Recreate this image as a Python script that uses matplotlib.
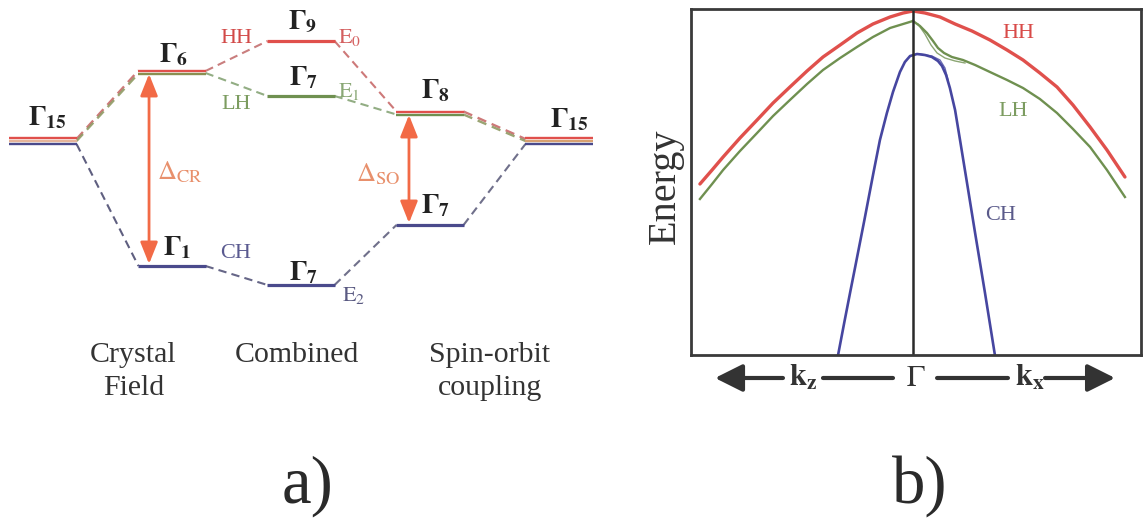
import matplotlib.pyplot as plt

plt.rcParams['font.family'] = 'Liberation Serif'
plt.rcParams['mathtext.fontset'] = 'stix'

RED = '#e0504c'
GREEN = '#6f9050'
BLUE = '#4a4a8c'
ORANGE = '#f26a46'
DARK = '#333333'

# ---------------- a) level scheme ----------------
# column: 0 = Γ15, 1 = crystal field, 2 = combined, 3 = spin-orbit, 4 = Γ15
level_names = ['G15a', 'G6', 'G1', 'G9', 'G7lh', 'G7ch', 'G8', 'G7so', 'G15b']
level_cols = [0, 1, 1, 2, 2, 2, 3, 3, 4]
level_energy = [0, 69, -125, 100, 45, -144, 28, -84, 0]
level_texts = [r'$\mathbf{\Gamma_{15}}$', r'$\mathbf{\Gamma_{6}}$', r'$\mathbf{\Gamma_{1}}$',
               r'$\mathbf{\Gamma_{9}}$', r'$\mathbf{\Gamma_{7}}$', r'$\mathbf{\Gamma_{7}}$',
               r'$\mathbf{\Gamma_{8}}$', r'$\mathbf{\Gamma_{7}}$', r'$\mathbf{\Gamma_{15}}$']
column_titles = ['Crystal\nField', 'Combined', 'Spin-orbit\ncoupling']

# splittings (upper level, lower level)
delta_cr = (69, -125)
delta_so = (28, -84)

# ---------------- b) band structure ----------------
hh_k_left = [-0.947, -0.893, -0.844, -0.769, -0.693, -0.622, -0.547, -0.471,
             -0.400, -0.324, -0.249, -0.178, -0.102, -0.044, 0.0]
hh_e_left = [-1.75, -1.61, -1.48, -1.29, -1.11, -0.94, -0.78, -0.62,
             -0.48, -0.36, -0.24, -0.15, -0.08, -0.04, -0.02]
hh_k_right = [0.0, 0.053, 0.12, 0.187, 0.262, 0.342, 0.418, 0.489,
              0.564, 0.64, 0.711, 0.787, 0.862, 0.942]
hh_e_right = [-0.02, -0.04, -0.08, -0.15, -0.22, -0.31, -0.41, -0.51,
              -0.64, -0.78, -0.96, -1.18, -1.41, -1.68]

lh_k_left = hh_k_left
lh_e_left = [-1.90, -1.75, -1.61, -1.42, -1.24, -1.07, -0.91, -0.75,
             -0.61, -0.49, -0.38, -0.28, -0.19, -0.15, -0.12]
lh_k_right = [0.0, 0.031, 0.062, 0.089, 0.111, 0.138, 0.173, 0.222, 0.276,
              0.342, 0.418, 0.489, 0.564, 0.64, 0.711, 0.787, 0.862, 0.942]
lh_e_right = [-0.12, -0.17, -0.24, -0.32, -0.39, -0.44, -0.48, -0.51, -0.56,
              -0.63, -0.71, -0.79, -0.90, -1.04, -1.20, -1.38, -1.61, -1.88]
lh_k_split = [0.022, 0.053, 0.08, 0.107, 0.142, 0.187, 0.231]
lh_e_split = [-0.15, -0.25, -0.36, -0.44, -0.49, -0.52, -0.54]

ch_k = [-0.333, -0.305, -0.279, -0.257, -0.216, -0.176, -0.147, -0.116, -0.089,
        -0.058, -0.036, -0.013, 0.018, 0.053, 0.084, 0.111, 0.129, 0.147, 0.164,
        0.187, 0.209, 0.243, 0.276, 0.320, 0.364]
ch_e = [-3.46, -3.13, -2.83, -2.58, -2.11, -1.64, -1.31, -1.04, -0.83,
        -0.63, -0.53, -0.47, -0.45, -0.46, -0.48, -0.52, -0.57, -0.66, -0.79,
        -1.01, -1.31, -1.78, -2.24, -2.84, -3.46]
ch_k_split = [0.031, 0.084, 0.12, 0.142, 0.156]
ch_e_split = [-0.45, -0.47, -0.51, -0.59, -0.71]


def level_line(ax, col, e, colors, gap):
    hw = 0.26
    n = len(colors)
    for i, c in enumerate(colors):
        off = (n - 1) / 2 * gap - i * gap
        ax.plot([col - hw, col + hw], [e + off, e + off], color=c,
                lw=2.3 if n == 1 else 1.7, solid_capstyle='butt')


def link(ax, c0, e0, c1, e1, color, lw=1.5):
    hw = 0.26
    ax.plot([c0 + hw, c1 - hw], [e0, e1], color=color, lw=lw,
            dashes=(4, 2.5), alpha=0.9)


def draw_levels(ax):
    E = dict(zip(level_names, level_energy))
    C = dict(zip(level_names, level_cols))

    # dashed correlation lines
    link(ax, 0, E['G15a'] + 2, 1, E['G6'] + 1.5, '#c86a6a', 1.7)
    link(ax, 0, E['G15a'], 1, E['G6'] - 1.5, '#8f9a64', 1.7)
    link(ax, 0, E['G15a'] - 3, 1, E['G1'], '#4e4e72')
    link(ax, 1, E['G6'] + 1, 2, E['G9'], '#c47070')
    link(ax, 1, E['G6'] - 1, 2, E['G7lh'], '#86a476')
    link(ax, 1, E['G1'], 2, E['G7ch'], '#55557a')
    link(ax, 2, E['G9'], 3, E['G8'] + 1.5, '#c86a6a')
    link(ax, 2, E['G7lh'], 3, E['G8'] - 1.5, '#86a476')
    link(ax, 2, E['G7ch'], 3, E['G7so'], '#60607e')
    link(ax, 3, E['G8'] + 1.5, 4, E['G15b'] + 2, '#c86a6a', 1.7)
    link(ax, 3, E['G8'] - 1.5, 4, E['G15b'], '#8f9a64', 1.7)
    link(ax, 3, E['G7so'], 4, E['G15b'] - 3, '#60607e')

    # the levels themselves
    level_colors = {'G15a': [RED, '#e6b49a', BLUE], 'G15b': [RED, '#d8a070', BLUE],
                    'G6': [RED, '#8a8f50'], 'G8': [RED, GREEN],
                    'G1': [BLUE], 'G9': [RED], 'G7lh': [GREEN],
                    'G7ch': [BLUE], 'G7so': [BLUE]}
    for name in level_names:
        level_line(ax, C[name], E[name], level_colors[name], 3.0)

    # Γ labels (left edge, baseline)
    label_pos = {'G15a': (-0.12, 16), 'G6': (0.90, 79), 'G1': (0.93, -114),
                 'G9': (1.90, 112), 'G7lh': (1.91, 56), 'G7ch': (1.91, -139),
                 'G8': (2.93, 43), 'G7so': (2.93, -72), 'G15b': (3.93, 14)}
    for name, txt in zip(level_names, level_texts):
        x, y = label_pos[name]
        ax.text(x, y, txt, fontsize=20, color='#222222', ha='left', va='baseline')

    # band names and energies
    ax.text(1.50, 103, 'HH', fontsize=16, color='#d24a48', ha='center', va='center')
    ax.text(1.50, 37, 'LH', fontsize=16, color='#7c9c60', ha='center', va='center')
    ax.text(1.49, -112, 'CH', fontsize=16, color='#5a5a90', ha='center', va='center')
    ax.text(2.29, 104, r'$\mathrm{E_0}$', fontsize=16, color='#d46060', ha='left', va='center')
    ax.text(2.29, 50, r'$\mathrm{E_1}$', fontsize=16, color='#8aa876', ha='left', va='center')
    ax.text(2.32, -154, r'$\mathrm{E_2}$', fontsize=16, color='#5a5a82', ha='left', va='center')

    # splitting arrows
    arrow = dict(arrowstyle='<|-|>,head_length=0.55,head_width=0.22', color=ORANGE,
                 lw=2.0, mutation_scale=24, shrinkA=0, shrinkB=0)
    ax.annotate('', xy=(0.822, delta_cr[1] + 2), xytext=(0.822, delta_cr[0] - 2),
                arrowprops=arrow)
    ax.annotate('', xy=(2.837, delta_so[1] + 2), xytext=(2.837, delta_so[0] - 2),
                arrowprops=arrow)
    ax.text(0.88, -31, r'$\Delta_{\mathrm{CR}}$', fontsize=19, color='#e8906c',
            ha='left', va='center')
    ax.text(2.77, -33, r'$\Delta_{\mathrm{SO}}$', fontsize=19, color='#e8906c',
            ha='right', va='center')

    # column titles
    ax.text(0.70, -230, column_titles[0], fontsize=21.5, color=DARK, ha='center',
            va='center', linespacing=1.35)
    ax.text(1.97, -214, column_titles[1], fontsize=21.5, color=DARK, ha='center',
            va='center')
    ax.text(3.465, -230, column_titles[2], fontsize=21.5, color=DARK, ha='center',
            va='center', linespacing=1.35)

    ax.text(2.047, -362, 'a)', fontsize=48, color='#2a2a2a', ha='center', va='baseline')


def draw_bands(ax):
    ax.plot(hh_k_left, hh_e_left, color=RED, lw=2.4, solid_capstyle='round')
    ax.plot(hh_k_right, hh_e_right, color=RED, lw=2.4, solid_capstyle='round')
    ax.plot(lh_k_left, lh_e_left, color=GREEN, lw=1.7)
    ax.plot(lh_k_right, lh_e_right, color=GREEN, lw=1.7)
    ax.plot(lh_k_split, lh_e_split, color=GREEN, lw=1.0, alpha=0.8)
    ax.plot(ch_k, ch_e, color='#4646a0', lw=1.9)
    ax.plot(ch_k_split, ch_e_split, color='#4646a0', lw=1.0, alpha=0.8)
    ax.axvline(0, color='#2a2a2a', lw=1.8)

    ax.text(0.467, -0.24, 'HH', fontsize=16, color='#d84a48', ha='center', va='center')
    ax.text(0.444, -1.03, 'LH', fontsize=16, color='#7c9c60', ha='center', va='center')
    ax.text(0.387, -2.06, 'CH', fontsize=16, color='#5a5a8a', ha='center', va='center')

    ax.text(-1.102, -1.77, 'Energy', rotation=90, fontsize=29, color=DARK,
            ha='center', va='center')

    # k axis under the panel
    y = -3.69
    head = dict(arrowstyle='-|>,head_length=0.6,head_width=0.3', color=DARK, lw=3,
                mutation_scale=28, shrinkA=0, shrinkB=0)
    plain = dict(arrowstyle='-', color=DARK, lw=3, shrinkA=0, shrinkB=0)
    ax.annotate('', xy=(-0.88, y), xytext=(-0.578, y), arrowprops=head,
                annotation_clip=False)
    ax.annotate('', xy=(-0.089, y), xytext=(-0.40, y), arrowprops=plain,
                annotation_clip=False)
    ax.annotate('', xy=(0.422, y), xytext=(0.107, y), arrowprops=plain,
                annotation_clip=False)
    ax.annotate('', xy=(0.898, y), xytext=(0.587, y), arrowprops=head,
                annotation_clip=False)
    ax.text(-0.49, y, r'$\mathbf{k_z}$', fontsize=22, color=DARK, ha='center', va='center')
    ax.text(0.013, y, r'$\Gamma$', fontsize=22, color=DARK, ha='center', va='center')
    ax.text(0.52, y, r'$\mathbf{k_x}$', fontsize=22, color=DARK, ha='center', va='center')

    ax.text(0.031, -4.94, 'b)', fontsize=48, color='#2a2a2a', ha='center', va='baseline')

    ax.set_xlim(-222 / 225, 228 / 225)
    ax.set_ylim(-3.46, 0)
    ax.set_xticks([])
    ax.set_yticks([])
    for s in ax.spines.values():
        s.set_linewidth(2.0)
        s.set_color('#3a3a3a')


fig = plt.figure(figsize=(11.43, 5.21), dpi=100)

ax_a = fig.add_axes([0, 0, 640 / 1143, 1])
ax_a.set_xlim(-43 / 129, (640 - 43) / 129)
ax_a.set_ylim(141 - 521, 141)
ax_a.axis('off')
draw_levels(ax_a)

ax_b = fig.add_axes([691 / 1143, (521 - 355) / 521, 450 / 1143, 346 / 521])
draw_bands(ax_b)

fig.savefig('out.png', dpi=100)
